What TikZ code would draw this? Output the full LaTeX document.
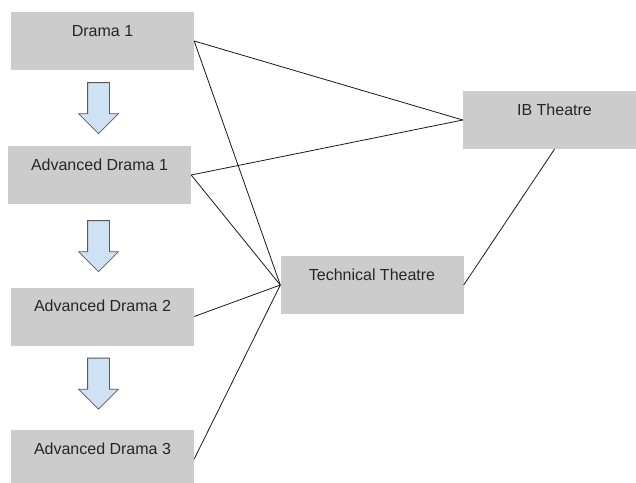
\documentclass[tikz,border=0pt]{standalone}
\usepackage{fontspec}
\setmainfont{Liberation Sans}
\usepackage{tikz}
\usetikzlibrary{shapes,shapes.arrows,calc,positioning}
\usepackage{xcolor}
\definecolor{boxgray}{HTML}{CCCCCC}
\definecolor{arrowblue}{HTML}{CFE2F3}
\definecolor{arrowedge}{HTML}{595959}

\begin{document}
\begin{tikzpicture}[x=1pt,y=-1pt,
	  every node/.style={align=center,text=black!85,draw=none,font=\fontsize{16}{19}\selectfont},
	  course/.style={fill=boxgray,minimum width=183pt,inner xsep=0pt,inner ysep=0pt,text height=24pt,text depth=34pt},
	  nextcourse/.style={single arrow,rotate=-90,anchor=tail,fill=arrowblue,draw=arrowedge,line width=0.8pt,inner xsep=0pt,inner ysep=10.5pt,minimum height=51pt,single arrow head extend=9pt},
	  link/.style={draw=black!90,line width=0.8pt}]

	  \useasboundingbox (0,0) rectangle (636,482);

	  % the course boxes
	  \node[course] (drama1) at (102.5,41) {Drama 1};
	  \node[course] (adv1) at (99.5,175) {Advanced Drama 1};
	  \node[course] (adv2) at (102.5,316.5) {Advanced Drama 2};
	  \node[course] (adv3) at (102.5,459) {Advanced Drama 3};
	  \node[course] (tech) at (372,285) {Technical Theatre};
	  \node[course] (ib) at (554.5,120) {IB Theatre};

	  % block arrows down the left column
	  \node[nextcourse] (step1) at ($(drama1.south)+(-4,12)$) {};
	  \node[nextcourse] (step2) at ($(adv1.south)+(-1,16)$) {};
	  \node[nextcourse] (step3) at ($(adv2.south)+(-4,12)$) {};

	  \draw[link] (drama1.east) -- (ib.west);
	  \draw[link] (drama1.east) -- (tech.west);
	  \draw[link] (adv1.east) -- (ib.west);
	  \draw[link] (adv1.east) -- (tech.west);
	  \draw[link] (adv2.east) -- (tech.west);
	  \draw[link] (adv3.east) -- (tech.west);
	  \draw[link] (tech.east) -- (ib.south);
\end{tikzpicture}
\end{document}
